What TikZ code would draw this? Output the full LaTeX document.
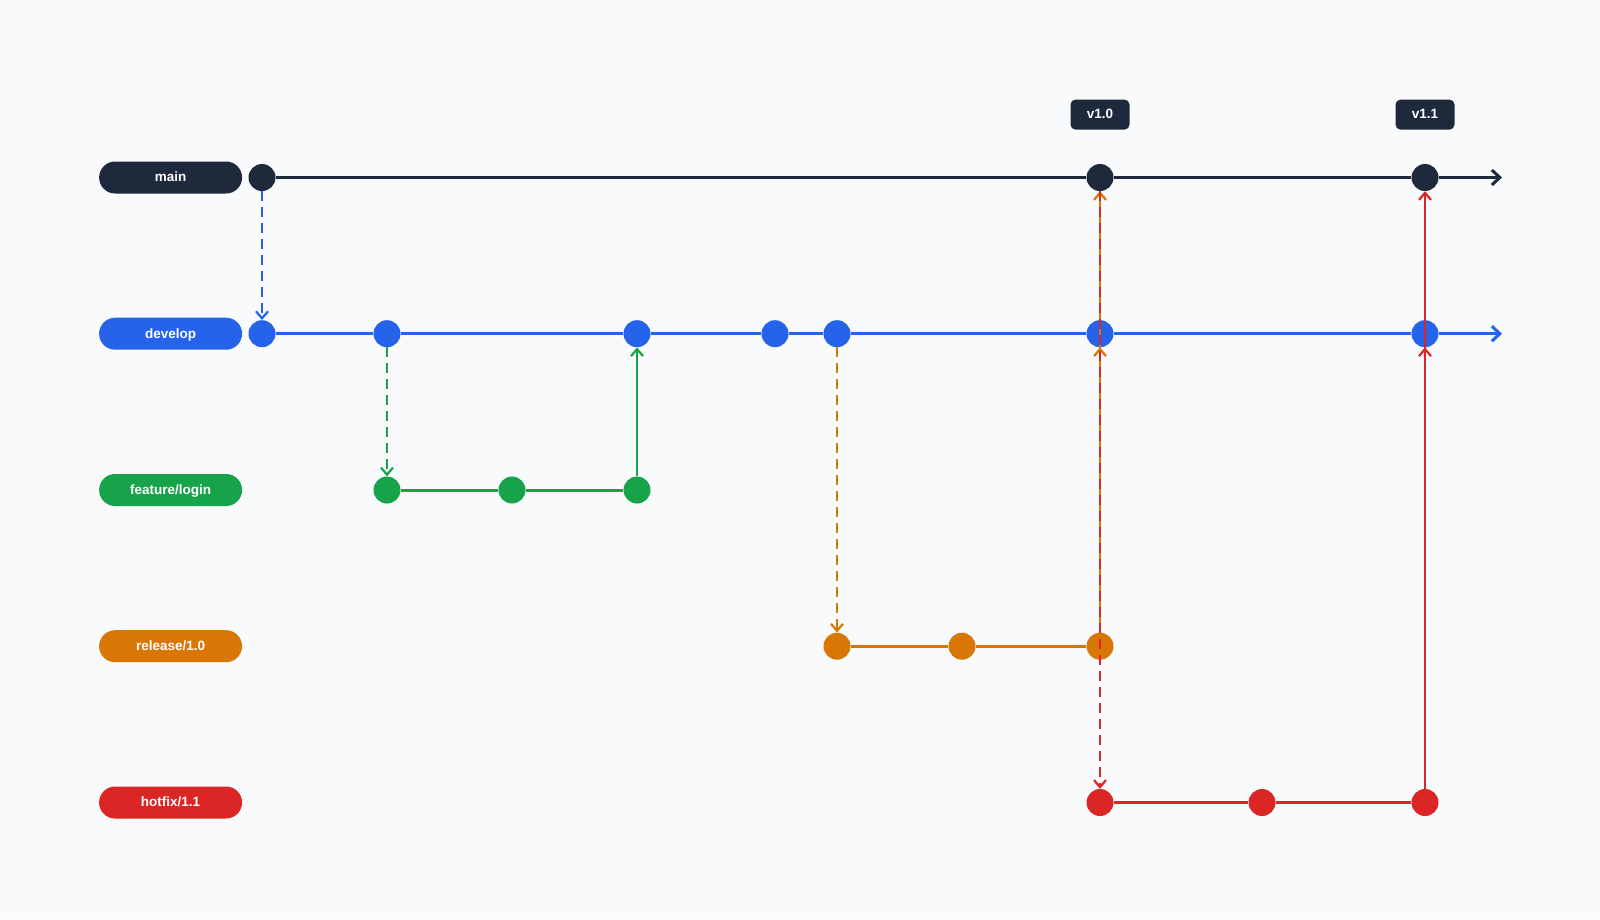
\documentclass[tikz,border=0pt]{standalone}
\usepackage{fontspec}
\setmainfont{Liberation Sans}
\usepackage{tikz}
\usetikzlibrary{positioning,arrows.meta}

\definecolor{mainc}{HTML}{1E293B}
\definecolor{devc}{HTML}{2563EB}
\definecolor{featc}{HTML}{16A34A}
\definecolor{relc}{HTML}{D97706}
\definecolor{hotc}{HTML}{DC2626}
\definecolor{bgc}{HTML}{F8FAFC}

\tikzset{
  commit/.style={circle, fill=#1, minimum size=27pt, inner sep=0pt},
  label/.style={font=\fontsize{13.5}{16}\selectfont\bfseries, text=white, inner sep=0pt, text height=11.5pt, text depth=2.9pt},
  branch/.style={label, fill=#1, rounded corners=16pt, minimum width=143pt, minimum height=32pt},
  tag/.style={label, fill=mainc, rounded corners=5pt, minimum width=59pt, minimum height=30pt},
  trunk/.style={draw=#1, line width=3pt, -{Straight Barb[length=8pt,width=15pt]}},
  line/.style={draw=#1, line width=3pt},
  fork/.style={draw=#1, line width=2.2pt, dash pattern=on 10pt off 6pt, -{Straight Barb[length=7pt,width=12pt]}},
  merge/.style={draw=#1, line width=2.2pt, -{Straight Barb[length=7pt,width=12pt]}},
}

\begin{document}
\begin{tikzpicture}[x=1pt, y=-1pt]
    \fill[bgc] (0,0) rectangle (1600,919);

    % Define nodes
    \node[commit=mainc]	(m0)	at (262,177.5)	{};
    \node[commit=mainc]	(m1)	at (1100,177.5)	{};
    \node[commit=mainc]	(m2)	at (1425,177.5)	{};
    \coordinate		(mend)	at (1502,177.5);

    \node[commit=devc]	(d0)	at (262,333.7)	{};
    \node[commit=devc]	(d1)	at (387,333.7)	{};
    \node[commit=devc]	(d2)	at (637,333.7)	{};
    \node[commit=devc]	(d3)	at (775,333.7)	{};
    \node[commit=devc]	(d4)	at (837,333.7)	{};
    \node[commit=devc]	(d5)	at (1100,333.7)	{};
    \node[commit=devc]	(d6)	at (1425,333.7)	{};
    \coordinate		(dend)	at (1502,333.7);

    \node[commit=featc]	(f0)	at (387,490)	{};
    \node[commit=featc]	(f1)	at (512,490)	{};
    \node[commit=featc]	(f2)	at (637,490)	{};

    \node[commit=relc]	(r0)	at (837,646.2)	{};
    \node[commit=relc]	(r1)	at (962,646.2)	{};
    \node[commit=relc]	(r2)	at (1100,646.2)	{};

    \node[commit=hotc]	(h0)	at (1100,802.5)	{};
    \node[commit=hotc]	(h1)	at (1262,802.5)	{};
    \node[commit=hotc]	(h2)	at (1425,802.5)	{};

    % branch names and tags
    \node[branch=mainc, left=6pt of m0]	(lmain)	{main};
    \node[branch=devc, left=6pt of d0]	(ldev)	{develop};
    \node[branch=featc]	(lfeat)	at (lmain |- f0)	{feature/login};
    \node[branch=relc]	(lrel)	at (lmain |- r0)	{release/1.0};
    \node[branch=hotc]	(lhot)	at (lmain |- h0)	{hotfix/1.1};
    \node[tag, above=34pt of m1]	(v10)	{v1.0};
    \node[tag, above=34pt of m2]	(v11)	{v1.1};

    % Connect nodes
    \draw[trunk=mainc] (m0) -- (m1) -- (m2) -- (mend);
    \draw[trunk=devc] (d0) -- (d1) -- (d2) -- (d3) -- (d4) -- (d5) -- (d6) -- (dend);
    \draw[line=featc] (f0) -- (f1) -- (f2);
    \draw[line=relc] (r0) -- (r1) -- (r2);
    \draw[line=hotc] (h0) -- (h1) -- (h2);

    \draw[fork=devc] (m0) -- (d0);
    \draw[fork=featc] (d1) -- (f0);
    \draw[merge=featc] (f2) -- (d2);
    \draw[fork=relc] (d4) -- (r0);
    \draw[merge=relc] (r2) -- (m1);
    \draw[merge=relc] (r2) -- (d5);
    \draw[fork=hotc] (m1) -- (h0);
    \draw[merge=hotc] (h2) -- (m2);
    \draw[merge=hotc] (h2) -- (d6);
\end{tikzpicture}
\end{document}
